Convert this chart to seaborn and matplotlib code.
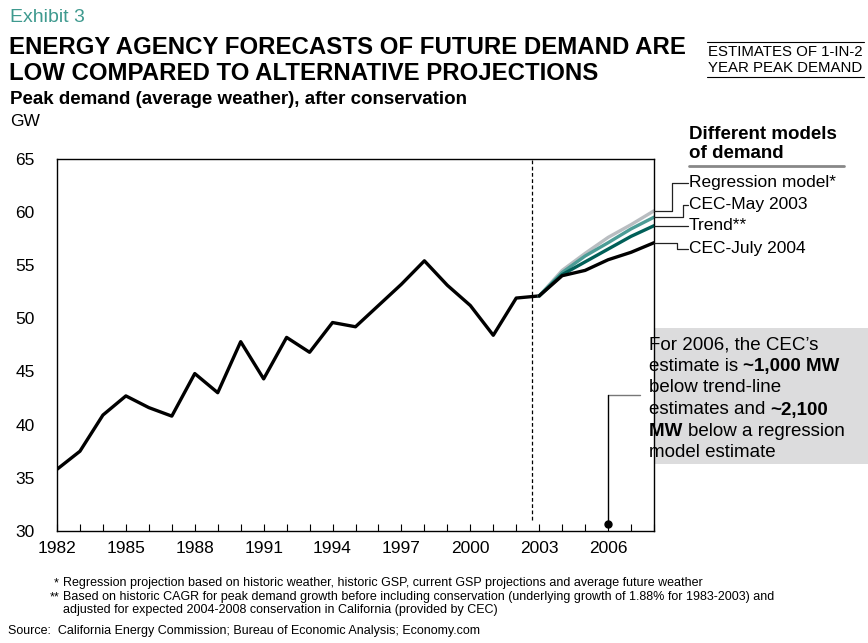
import matplotlib
matplotlib.use("Agg")
import matplotlib.pyplot as plt
from matplotlib.font_manager import FontProperties
from matplotlib.patches import Rectangle
from matplotlib.lines import Line2D
import pandas as pd
import seaborn as sns

# ---- data -------------------------------------------------------------
hist_years = list(range(1982, 2004))
hist_peak = [35.8, 37.5, 40.9, 42.7, 41.6, 40.8, 44.8, 43.0, 47.8, 44.3, 48.2,
             46.8, 49.6, 49.2, 51.2, 53.2, 55.4, 53.1, 51.2, 48.4, 51.9, 52.1]

proj_years = list(range(2003, 2009))
regression = [52.1, 54.5, 56.1, 57.6, 58.8, 60.1]
cec_may_2003 = [52.1, 54.3, 55.85, 57.1, 58.4, 59.5]
trend = [52.1, 54.1, 55.3, 56.5, 57.7, 58.7]
cec_july_2004 = [52.1, 54.0, 54.5, 55.5, 56.2, 57.1]

model_names = ["Regression model*", "CEC-May 2003", "Trend**", "CEC-July 2004"]
model_values = [regression, cec_may_2003, trend, cec_july_2004]
model_colors = ["#b9bdc1", "#4b9c96", "#005f58", "#000000"]

x_ticks = list(range(1982, 2007, 3))
y_ticks = [30, 35, 40, 45, 50, 55, 60, 65]

# ---- style ------------------------------------------------------------
sns.set_theme(style="white")
plt.rcParams["font.family"] = ["Liberation Sans", "DejaVu Sans"]
for key in ("text.color", "axes.labelcolor", "xtick.color", "ytick.color"):
    plt.rcParams[key] = "black"

W, H = 868, 643
fig = plt.figure(figsize=(W / 100, H / 100), dpi=100)
fig.patch.set_facecolor("white")


def fx(x):
    return x / W


def fy(y):
    return 1 - y / H


ax_l, ax_r, ax_t, ax_b = 57, 654, 158.7, 531
ax = fig.add_axes([fx(ax_l), fy(ax_b), (ax_r - ax_l) / W, (ax_b - ax_t) / H])

hist_df = pd.DataFrame({"year": hist_years, "gw": hist_peak})
proj_df = pd.DataFrame(
    [(name, yr, v) for name, vals in zip(model_names, model_values)
     for yr, v in zip(proj_years, vals)],
    columns=["model", "year", "gw"],
)

sns.lineplot(data=hist_df, x="year", y="gw", color="black", linewidth=2.4, ax=ax)
sns.lineplot(data=proj_df, x="year", y="gw", hue="model", hue_order=model_names,
             palette=dict(zip(model_names, model_colors)), linewidth=2.4,
             legend=False, ax=ax)

ax.set_xlim(1982, 2008)
ax.set_ylim(30, 65)
ax.set_xlabel("")
ax.set_ylabel("")
ax.set_xticks(x_ticks)
ax.set_xticks(range(1982, 2009), minor=True)
ax.set_yticks(y_ticks)
ax.tick_params(axis="x", which="both", direction="in", length=5, width=0.8,
               color="black", labelsize=12.5, pad=7, bottom=True)
ax.tick_params(axis="y", which="both", length=0, labelsize=12.5, pad=16)
for s in ax.spines.values():
    s.set_visible(True)
    s.set_color("black")
    s.set_linewidth(1.0)
ax.grid(False)

# boundary between actuals and forecasts
ax.vlines(2002.7, 31.0, 65, colors="black", linestyles=(0, (3, 2)), linewidths=0.9)

# ---- header -----------------------------------------------------------
fig.text(fx(10), fy(17), "Exhibit 3", color="#3f9a8f", fontsize=14, va="center")
fig.text(fx(9), fy(47), "ENERGY AGENCY FORECASTS OF FUTURE DEMAND ARE",
         fontsize=17.3, fontweight="bold", va="center")
fig.text(fx(9), fy(73), "LOW COMPARED TO ALTERNATIVE PROJECTIONS",
         fontsize=17.3, fontweight="bold", va="center")
fig.text(fx(10), fy(99), "Peak demand (average weather), after conservation",
         fontsize=13.5, fontweight="bold", va="center")
fig.text(fx(10), fy(121), "GW", fontsize=12.5, va="center")

fig.text(fx(708), fy(52), "ESTIMATES OF 1-IN-2", fontsize=10.8, va="center")
fig.text(fx(708), fy(68), "YEAR PEAK DEMAND", fontsize=10.8, va="center")
fig.add_artist(Line2D([fx(707), fx(864)], [fy(42), fy(42)], color="black", lw=0.8))
fig.add_artist(Line2D([fx(707), fx(864)], [fy(77), fy(77)], color="black", lw=0.8))

# ---- model labels -----------------------------------------------------
fig.text(fx(689), fy(134), "Different models", fontsize=13.5, fontweight="bold", va="center")
fig.text(fx(689), fy(154), "of demand", fontsize=13.5, fontweight="bold", va="center")
fig.add_artist(Line2D([fx(689), fx(844)], [fy(166), fy(166)], color="#888888", lw=2))

label_y = [183, 204.5, 226, 249]
elbow_x = [672, 683, None, 677]
fig.canvas.draw()
for name, vals, ly, ex in zip(model_names, model_values, label_y, elbow_x):
    end_disp = ax.transData.transform((2008, vals[-1]))
    sy = H - end_disp[1]
    if ex is None:
        xs, ys = [ax_r, 688], [sy, sy]
        ly = sy
    else:
        xs, ys = [ax_r, ex, ex, 688], [sy, sy, ly, ly]
    fig.add_artist(Line2D([fx(v) for v in xs], [fy(v) for v in ys],
                          color="#222222", lw=0.9))
    fig.text(fx(689), fy(ly), name, fontsize=12.5, va="center")

# ---- callout ------------------------------------------------------------
fig.add_artist(Rectangle((fx(640), fy(464)), (W - 640) / W, (464 - 328) / H,
                         transform=fig.transFigure, facecolor="#dcdcdd",
                         edgecolor="none", zorder=0))
callout = [
    [("For 2006, the CEC\u2019s", False)],
    [("estimate is ", False), ("~1,000 MW", True)],
    [("below trend-line", False)],
    [("estimates and ", False), ("~2,100", True)],
    [("MW ", True), ("below a regression", False)],
    [("model estimate", False)],
]
line_y = [345, 366.7, 388, 410, 431.7, 452.7]
renderer = fig.canvas.get_renderer()
fp_reg = FontProperties(family=["Liberation Sans", "DejaVu Sans"], size=13.5)
fp_bold = FontProperties(family=["Liberation Sans", "DejaVu Sans"], size=13.5, weight="bold")


def text_width(s, fp):
    w1, _, _ = renderer.get_text_width_height_descent(s + "X", fp, ismath=False)
    w2, _, _ = renderer.get_text_width_height_descent("X", fp, ismath=False)
    return w1 - w2


for segs, ly in zip(callout, line_y):
    x = 649
    for s, bold in segs:
        fp = fp_bold if bold else fp_reg
        fig.text(fx(x), fy(ly), s, fontproperties=fp, va="center")
        x += text_width(s, fp)

# leader from callout to 2006
x_box = 1982 + (640 - ax_l) / (ax_r - ax_l) * 26
y_lead = 65 - (395 - ax_t) / (ax_b - ax_t) * 35
ax.plot([x_box, 2006], [y_lead, y_lead], color="#777777", lw=1.0, clip_on=False)
ax.plot([2006, 2006], [y_lead, 30.65], color="black", lw=1.0, clip_on=False)
ax.plot([2006], [30.65], marker="o", color="black", markersize=5, clip_on=False)

# ---- footnotes --------------------------------------------------------
fn = 9
fig.text(fx(59), fy(583), "*", fontsize=fn, va="center", ha="right")
fig.text(fx(63), fy(583), "Regression projection based on historic weather, historic GSP, "
         "current GSP projections and average future weather", fontsize=fn, va="center")
fig.text(fx(59), fy(597), "**", fontsize=fn, va="center", ha="right")
fig.text(fx(63), fy(597), "Based on historic CAGR for peak demand growth before including "
         "conservation (underlying growth of 1.88% for 1983-2003) and", fontsize=fn, va="center")
fig.text(fx(63), fy(610), "adjusted for expected 2004-2008 conservation in California "
         "(provided by CEC)", fontsize=fn, va="center")
fig.text(fx(8), fy(631), "Source:  California Energy Commission; Bureau of Economic Analysis; "
         "Economy.com", fontsize=fn, va="center")

fig.savefig("out.png", dpi=100)
